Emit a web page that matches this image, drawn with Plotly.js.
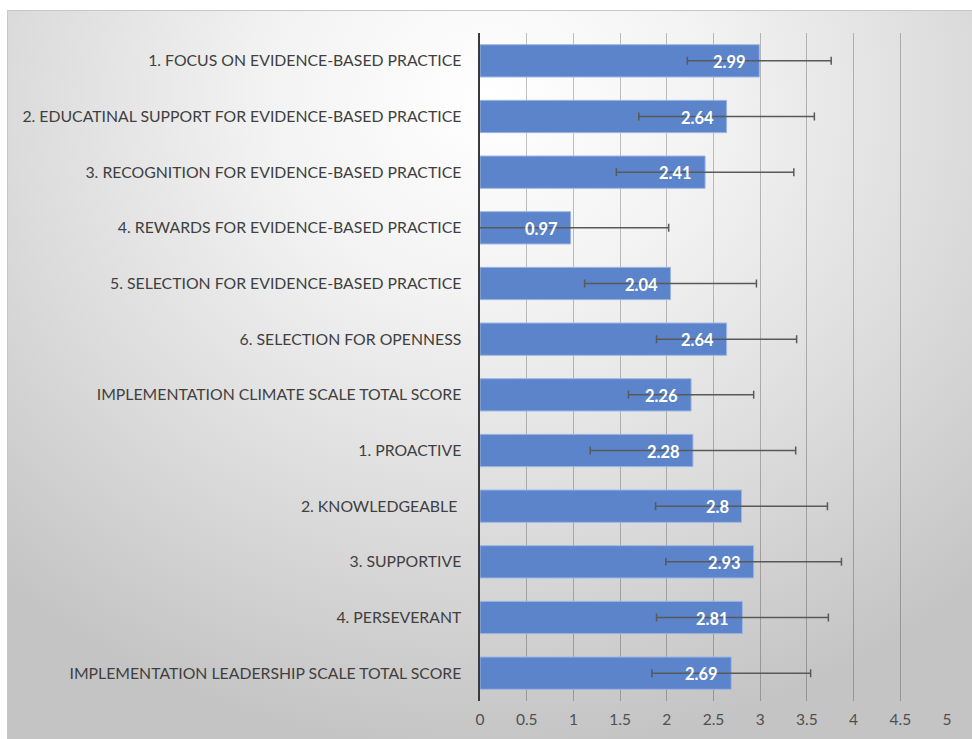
<!DOCTYPE html>
<html><head><meta charset="utf-8">
<script src="https://cdn.plot.ly/plotly-3.0.1.min.js"></script>
<style>
html,body{margin:0;padding:0;background:#fff;width:972px;height:739px;overflow:hidden;}
#wrap{position:absolute;left:7px;top:10px;width:965px;height:729px;box-sizing:border-box;border-top:1px solid #c8c8c8;border-left:1px solid #c8c8c8;
background:radial-gradient(ellipse 75% 90% at 50% 12%, #ffffff 0%, #f3f3f3 30%, #dcdcdc 65%, #c4c4c4 100%);}
#chart{width:964px;height:728px;}
</style></head><body>
<div id="wrap"><div id="chart"></div></div>
<script>
const categories = [
  "1. FOCUS ON EVIDENCE-BASED PRACTICE",
  "2. EDUCATINAL SUPPORT FOR EVIDENCE-BASED PRACTICE",
  "3. RECOGNITION FOR EVIDENCE-BASED PRACTICE",
  "4. REWARDS FOR EVIDENCE-BASED PRACTICE",
  "5. SELECTION FOR EVIDENCE-BASED PRACTICE",
  "6. SELECTION FOR OPENNESS",
  "IMPLEMENTATION CLIMATE SCALE TOTAL SCORE",
  "1. PROACTIVE",
  "2. KNOWLEDGEABLE ",
  "3. SUPPORTIVE",
  "4. PERSEVERANT",
  "IMPLEMENTATION LEADERSHIP SCALE TOTAL SCORE"
];
const means = [2.99, 2.64, 2.41, 0.97, 2.04, 2.64, 2.26, 2.28, 2.8, 2.93, 2.81, 2.69];
const sds   = [0.77, 0.94, 0.95, 1.05, 0.92, 0.75, 0.67, 1.10, 0.92, 0.94, 0.92, 0.85];
const tickVals = [0, 0.5, 1, 1.5, 2, 2.5, 3, 3.5, 4, 4.5, 5];
const tickText = ["0","0.5","1","1.5","2","2.5","3","3.5","4","4.5","5"];

const FONT = 'Lato, "Open Sans", sans-serif';

const trace = {
  type: 'bar', orientation: 'h',
  y: categories, x: means,
  marker: {color: '#5b84cb', line: {color: '#9db6e2', width: 1}},
  width: 0.58,
  error_x: {type: 'data', array: sds, visible: true, color: '#595959', thickness: 1.5, width: 4},
  hoverinfo: 'none'
};

const annotations = means.map((v, i) => ({
  x: v, y: categories[i], xref: 'x', yref: 'y',
  text: String(v), showarrow: false,
  xanchor: 'right', yanchor: 'middle', xshift: -11, yshift: -1,
  font: {family: FONT, size: 16.5, color: '#ffffff', weight: 'bold'}
}));

const layout = {
  width: 964, height: 728,
  margin: {l: 472, r: 25, t: 22, b: 38},
  paper_bgcolor: 'rgba(0,0,0,0)', plot_bgcolor: 'rgba(0,0,0,0)',
  showlegend: false,
  font: {family: FONT, color: '#404040'},
  annotations: annotations,
  xaxis: {
    range: [0, 5], tickvals: tickVals, ticktext: tickText,
    showgrid: true, gridcolor: 'rgba(0,0,0,0.24)', gridwidth: 1,
    zeroline: false, showline: false, ticks: '', ticklabelstandoff: 7,
    tickfont: {size: 15.5, color: '#505050'}, fixedrange: true
  },
  yaxis: {
    autorange: 'reversed', type: 'category',
    showline: true, linecolor: '#3a3a3a', linewidth: 2.5,
    ticks: '', ticklabelstandoff: 13,
    tickfont: {size: 15.8, color: '#404040'}, showgrid: false, fixedrange: true
  }
};
Plotly.newPlot('chart', [trace], layout, {displayModeBar: false, staticPlot: true});
</script>
</body></html>
